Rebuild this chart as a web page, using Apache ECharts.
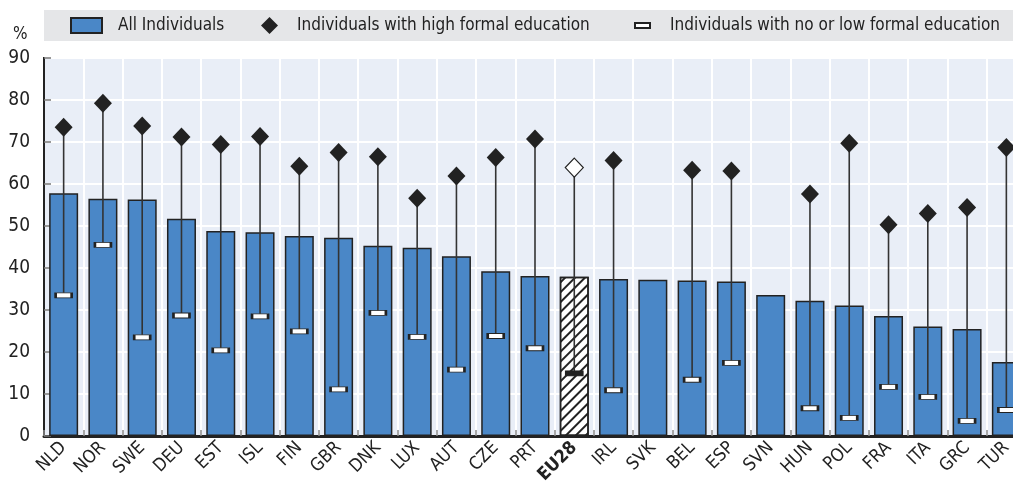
<!DOCTYPE html>
<html>
<head>
<meta charset="utf-8">
<script src="https://cdn.jsdelivr.net/npm/echarts@6/dist/echarts.min.js"></script>
<style>
html,body{margin:0;padding:0;background:#fff;}
#chart{width:1013px;height:482px;}
</style>
</head>
<body>
<div id="chart"></div>
<script>
const categories = ['NLD','NOR','SWE','DEU','EST','ISL','FIN','GBR','DNK','LUX','AUT','CZE','PRT','EU28','IRL','SVK','BEL','ESP','SVN','HUN','POL','FRA','ITA','GRC','TUR'];
const allIndividuals = [57.8,56.5,56.3,51.7,48.8,48.5,47.6,47.2,45.3,44.8,42.8,39.2,38.1,37.9,37.4,37.2,37.0,36.8,33.6,32.2,31.1,28.6,26.1,25.5,17.6];
const highEducation = [73.5,79.2,73.8,71.2,69.4,71.3,64.2,67.5,66.5,56.6,61.9,66.3,70.7,63.9,65.6,null,63.3,63.1,null,57.6,69.7,50.3,53.0,54.4,68.7];
const lowEducation = [33.5,45.5,23.5,28.7,20.4,28.5,24.9,11.1,29.3,23.6,15.8,23.8,20.9,14.9,10.9,null,13.4,17.4,null,6.6,4.3,11.7,9.3,3.6,6.2];
const yTicks = [0,10,20,30,40,50,60,70,80,90];

const FONT = '"DejaVu Sans Condensed", "Liberation Sans Narrow", sans-serif';
const BLUE = '#4a87c7';
const DARK = '#222222';
const HI = 'EU28';

const chart = echarts.init(document.getElementById('chart'), null, {renderer:'canvas'});

const barData = allIndividuals.map((v,i) => {
  if (categories[i] === HI) {
    return {value:v, itemStyle:{color:'#ffffff', borderColor:DARK, borderWidth:1.5,
      decal:{symbol:'rect', symbolSize:1, color:DARK, dashArrayX:[1,0], dashArrayY:[1.5,4.5], rotation:-Math.PI/4}}};
  }
  return v;
});
const hiData = highEducation.map((v,i) => {
  if (v == null) return null;
  if (categories[i] === HI) return {value:v, itemStyle:{color:'#ffffff', borderColor:DARK, borderWidth:1.2}};
  return v;
});
const loData = lowEducation.map((v,i) => {
  if (v == null) return null;
  if (categories[i] === HI) return {value:v, itemStyle:{color:DARK}};
  return v;
});
const rangeData = categories.map((c,i) => [i, lowEducation[i], highEducation[i]]).filter(d => d[1] != null);

const legendText = {fontSize:17, color:DARK, fontFamily:FONT};
const option = {
  animation:false,
  textStyle:{fontFamily:FONT},
  graphic:[
    {type:'rect', left:44, top:10, shape:{width:969, height:31}, style:{fill:'#e5e6e8'}, z:-10},
    {type:'text', left:13, top:26, style:{text:'%', font:'17px '+FONT, fill:DARK}}
  ],
  legend:[
    {data:['All Individuals'], left:70, top:17, padding:0, itemWidth:31, itemHeight:15, icon:'rect',
     textStyle:Object.assign({padding:[0,0,0,11]}, legendText)},
    {data:['Individuals with high formal education'], left:261, top:17, padding:0, itemWidth:17, itemHeight:17,
     textStyle:Object.assign({padding:[0,0,0,14]}, legendText)},
    {data:['Individuals with no or low formal education'], left:634, top:17, padding:0, itemWidth:15, itemHeight:5,
     textStyle:Object.assign({padding:[0,0,0,15]}, legendText)}
  ],
  grid:{left:44, top:58, width:982, bottom:46, outerBoundsMode:'none', containLabel:false,
        show:true, backgroundColor:'#e9eef7', borderColor:DARK, borderWidth:2},
  xAxis:{
    type:'category', data:categories, boundaryGap:true,
    axisLine:{lineStyle:{color:DARK, width:3}},
    axisTick:{show:true, inside:true, length:6, lineStyle:{color:'#8a8a8a', width:1.5}},
    splitLine:{show:true, lineStyle:{color:'#ffffff', width:2}},
    axisLabel:{interval:0, rotate:45, fontSize:18, color:DARK, fontFamily:FONT, margin:9,
      formatter:function(v){ return v === HI ? '{b|'+v+'}' : v; },
      rich:{b:{fontWeight:'bold', fontSize:18, fontFamily:FONT, color:DARK}}}
  },
  yAxis:{
    type:'value', min:0, max:90, interval:10,
    axisLine:{show:true, lineStyle:{color:DARK, width:2}},
    axisTick:{show:true, inside:true, length:7, lineStyle:{color:'#777', width:1.5}},
    splitLine:{show:true, lineStyle:{color:'#ffffff', width:2}},
    axisLabel:{fontSize:19, color:DARK, fontFamily:FONT, margin:14,
      formatter:function(v){ return yTicks.indexOf(v) >= 0 ? String(v) : ''; }}
  },
  series:[
    {name:'All Individuals', type:'bar', data:barData, barWidth:29,
     itemStyle:{color:BLUE, borderColor:DARK, borderWidth:1.5}, z:2},
    {name:'range', type:'custom', data:rangeData, encode:{x:0, y:[1,2]}, z:3,
     renderItem:function(params, api){
       const p1 = api.coord([api.value(0), api.value(1)]);
       const p2 = api.coord([api.value(0), api.value(2)]);
       return {type:'line', shape:{x1:p1[0], y1:p1[1], x2:p2[0], y2:p2[1]},
               style:{stroke:'#333', lineWidth:1.6}};
     }},
    {name:'Individuals with high formal education', type:'scatter', data:hiData, symbol:'diamond',
     symbolSize:[18,19], itemStyle:{color:DARK, opacity:1}, z:5},
    {name:'Individuals with no or low formal education', type:'scatter', data:loData, symbol:'rect',
     symbolSize:[16,5], itemStyle:{color:'#ffffff', borderColor:DARK, borderWidth:1.5, opacity:1}, z:4}
  ]
};
chart.setOption(option);
</script>
</body>
</html>
